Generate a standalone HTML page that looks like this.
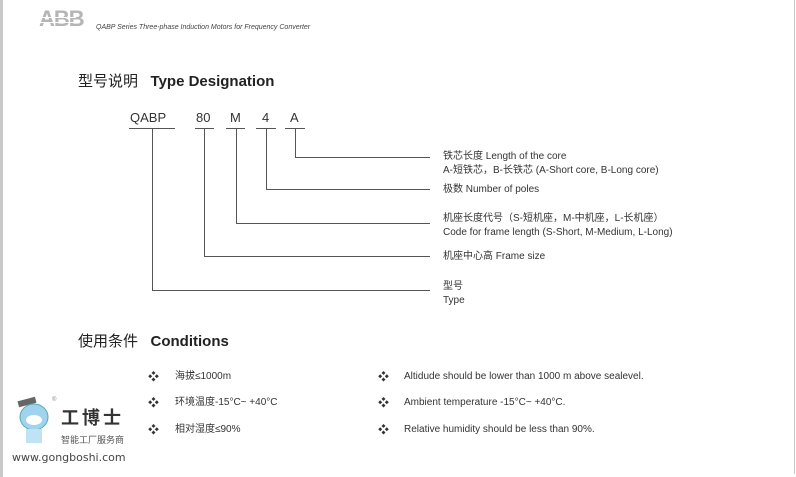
<!DOCTYPE html>
<html><head><meta charset="utf-8"><style>
body{margin:0;width:796px;height:477px;background:#fff;position:relative;overflow:hidden;font-family:"Liberation Sans","Noto Sans CJK SC",sans-serif;color:#333}
.t{position:absolute;white-space:nowrap;font-size:10px;line-height:12px}
.l{position:absolute;background:#555}
.c{position:absolute;font-size:13px;line-height:14px;white-space:nowrap}
</style></head><body>
<div style="position:absolute;left:0;top:0;width:3px;height:477px;background:#c8c8c8"></div>
<div style="position:absolute;left:794px;top:0;width:1px;height:474px;background:#c8c8c8"></div>
<div class="t" style="left:39px;top:7px;font-size:22px;line-height:24px;font-weight:bold;color:#b5b5b5;letter-spacing:-1px;font-family:'Liberation Sans',sans-serif">ABB</div>
<div style="position:absolute;left:38px;top:17px;width:38px;height:1px;background:#fff"></div>
<div style="position:absolute;left:38px;top:22px;width:38px;height:1px;background:#fff"></div>
<div class="t" style="left:96px;top:22px;font-size:7px;font-style:italic;color:#444">QABP Series Three-phase Induction Motors for Frequency Converter</div>
<div class="t" style="left:78px;top:73px;font-size:15px;line-height:17px;color:#222">型号说明&nbsp;&nbsp; <b>Type Designation</b></div>
<div class="c" style="left:130px;top:111px">QABP</div>
<div class="c" style="left:196px;top:111px">80</div>
<div class="c" style="left:230px;top:111px">M</div>
<div class="c" style="left:262px;top:111px">4</div>
<div class="c" style="left:290px;top:111px">A</div>
<div class="l" style="left:129px;top:128px;width:46px;height:1px"></div>
<div class="l" style="left:195px;top:128px;width:19px;height:1px"></div>
<div class="l" style="left:226px;top:128px;width:19px;height:1px"></div>
<div class="l" style="left:256px;top:128px;width:20px;height:1px"></div>
<div class="l" style="left:285px;top:128px;width:20px;height:1px"></div>
<div class="l" style="left:152px;top:128px;width:1px;height:163px"></div>
<div class="l" style="left:152px;top:290px;width:278px;height:1px"></div>
<div class="l" style="left:204px;top:128px;width:1px;height:129px"></div>
<div class="l" style="left:204px;top:256px;width:226px;height:1px"></div>
<div class="l" style="left:236px;top:128px;width:1px;height:96px"></div>
<div class="l" style="left:236px;top:223px;width:194px;height:1px"></div>
<div class="l" style="left:266px;top:128px;width:1px;height:62px"></div>
<div class="l" style="left:266px;top:189px;width:164px;height:1px"></div>
<div class="l" style="left:295px;top:128px;width:1px;height:29px"></div>
<div class="l" style="left:295px;top:157px;width:135px;height:1px"></div>
<div class="t" style="left:443px;top:151px">铁芯长度 Length of the core</div>
<div class="t" style="left:443px;top:165px">A-短铁芯，B-长铁芯 (A-Short core, B-Long core)</div>
<div class="t" style="left:443px;top:184px">极数 Number of poles</div>
<div class="t" style="left:443px;top:213px">机座长度代号（S-短机座，M-中机座，L-长机座）</div>
<div class="t" style="left:443px;top:227px">Code for frame length (S-Short, M-Medium, L-Long)</div>
<div class="t" style="left:443px;top:251px">机座中心高 Frame size</div>
<div class="t" style="left:443px;top:281px">型号</div>
<div class="t" style="left:443px;top:295px">Type</div>
<div class="t" style="left:78px;top:333px;font-size:15px;line-height:17px;color:#222">使用条件&nbsp;&nbsp; <b>Conditions</b></div>
<div class="t" style="left:148px;top:371px;font-size:11px">❖</div><div class="t" style="left:175px;top:371px">海拔≤1000m</div>
<div class="t" style="left:148px;top:397px;font-size:11px">❖</div><div class="t" style="left:175px;top:397px">环境温度-15°C~ +40°C</div>
<div class="t" style="left:148px;top:424px;font-size:11px">❖</div><div class="t" style="left:175px;top:424px">相对湿度≤90%</div>
<div class="t" style="left:378px;top:371px;font-size:11px">❖</div><div class="t" style="left:404px;top:371px">Altidude should be lower than 1000 m above sealevel.</div>
<div class="t" style="left:378px;top:397px;font-size:11px">❖</div><div class="t" style="left:404px;top:397px">Ambient temperature -15°C~ +40°C.</div>
<div class="t" style="left:378px;top:424px;font-size:11px">❖</div><div class="t" style="left:404px;top:424px">Relative humidity should be less than 90%.</div>
<svg style="position:absolute;left:12px;top:395px" width="48" height="50"><rect x="6" y="4" width="18" height="6" fill="#666" transform="rotate(-15 15 7)"/><ellipse cx="22" cy="22" rx="14" ry="13" fill="#9fd3ee" stroke="#5aa" /><ellipse cx="22" cy="25" rx="8" ry="5" fill="#fff"/><rect x="14" y="34" width="16" height="14" fill="#bfe3f5"/></svg>
<div class="t" style="left:52px;top:394px;font-size:6px;color:#888">®</div>
<div class="t" style="left:61px;top:408px;font-size:18px;line-height:20px;font-weight:bold;color:#333;letter-spacing:3px">工博士</div>
<div class="t" style="left:61px;top:435px;font-size:9px;line-height:10px;color:#555">智能工厂服务商</div>
<div class="t" style="left:12px;top:452px;font-size:11px;line-height:12px;color:#444;font-family:'DejaVu Sans',sans-serif">www.gongboshi.com</div>
</body></html>
